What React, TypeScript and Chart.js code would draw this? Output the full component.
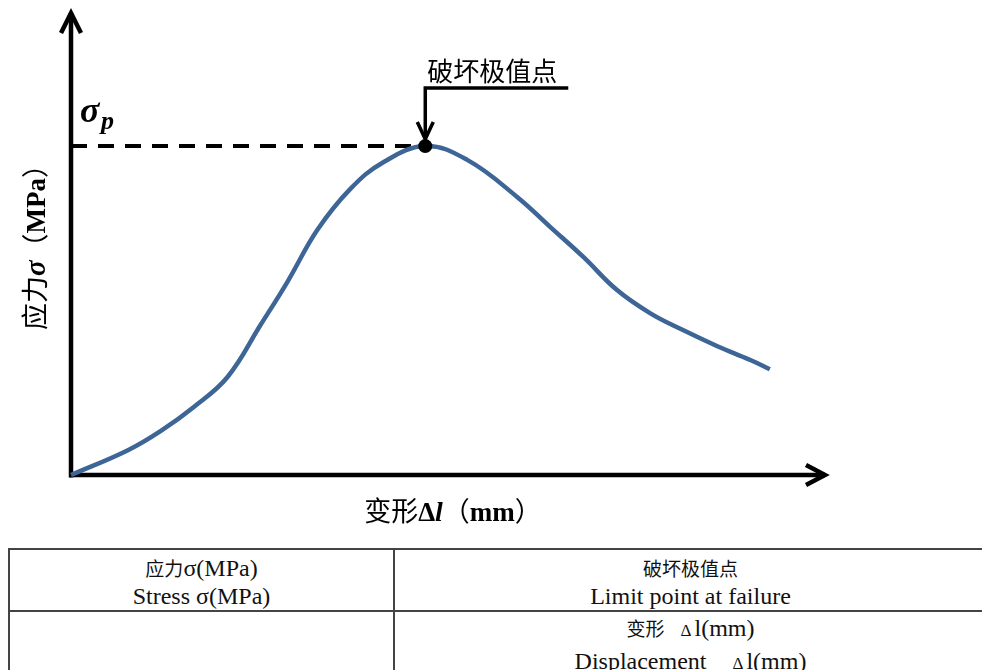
import React, { useEffect, useRef } from "react";
import { Chart, registerables } from "chart.js";

Chart.register(...registerables);

// Deformation Δl (relative units) and stress σ (relative units)
const deformation = [0, 7.6, 12.0, 16.4, 20.9, 25.3, 28.9, 32.9, 37.3, 41.7, 47.3, 52.9, 59.6, 64.0, 68.4, 72.9, 77.3, 81.7, 86.3, 90.7, 93.3];
const stress = [0, 5.4, 9.6, 14.8, 21.3, 32.6, 42.0, 53.3, 62.2, 68.0, 71.5, 68.5, 60.4, 53.9, 47.4, 40.2, 35.2, 31.5, 28.0, 25.0, 23.0];
const peakDeformation = 47.3;
const peakStress = 71.5;

const peakLabel = "破坏极值点";
const yTitleRuns = [
  { t: "应力", f: '27px "Noto Sans CJK SC"' },
  { t: "σ", f: 'italic bold 29px "Liberation Serif"' },
  { t: "（", f: '27px "Noto Sans CJK SC"' },
  { t: "MPa", f: 'bold 27px "Liberation Serif"' },
  { t: "）", f: '27px "Noto Sans CJK SC"' },
];
const xTitleRuns = [
  { t: "变形", f: '27px "Noto Sans CJK SC"' },
  { t: "Δ", f: 'bold 27px "Liberation Serif"' },
  { t: "l", f: 'italic bold 28px "Liberation Serif"' },
  { t: "（", f: '27px "Noto Sans CJK SC"' },
  { t: "mm", f: 'bold 27px "Liberation Serif"' },
  { t: "）", f: '27px "Noto Sans CJK SC"' },
];

const stressCn = "应力";
const stressLatin = "σ(MPa)";
const stressEn = "Stress σ(MPa)";
const failureCn = "破坏极值点";
const failureEn = "Limit point at failure";
const dispCn = "变形";
const dispEn = "Displacement";
const dispUnit = "l(mm)";

function drawRuns(ctx: CanvasRenderingContext2D, runs: { t: string; f: string }[], cx: number, cy: number) {
  let total = 0;
  const widths = runs.map((r) => {
    ctx.font = r.f;
    const w = ctx.measureText(r.t).width;
    total += w;
    return w;
  });
  let x = cx - total / 2;
  ctx.textAlign = "left";
  ctx.textBaseline = "alphabetic";
  runs.forEach((r, i) => {
    ctx.font = r.f;
    ctx.fillText(r.t, x, cy);
    x += widths[i];
  });
}

const decorPlugin = {
  id: "decor",
  beforeDatasetsDraw(chart: any) {
    const ctx: CanvasRenderingContext2D = chart.ctx;
    const xs = chart.scales.x;
    const ys = chart.scales.y;
    const ox = xs.getPixelForValue(0);
    const oy = ys.getPixelForValue(0);
    const { top, right } = chart.chartArea;
    ctx.save();
    ctx.strokeStyle = "#000";
    ctx.lineWidth = 4.5;
    ctx.lineCap = "butt";
    ctx.lineJoin = "miter";
    ctx.beginPath();
    ctx.moveTo(ox, oy + 2.5);
    ctx.lineTo(ox, top - 2);
    ctx.stroke();
    ctx.beginPath();
    ctx.moveTo(ox - 10, top + 18);
    ctx.lineTo(ox, top - 2);
    ctx.lineTo(ox + 10, top + 18);
    ctx.stroke();
    ctx.beginPath();
    ctx.moveTo(ox - 2, oy);
    ctx.lineTo(right + 5, oy);
    ctx.stroke();
    ctx.beginPath();
    ctx.moveTo(right - 14, oy - 10);
    ctx.lineTo(right + 5, oy);
    ctx.lineTo(right - 14, oy + 10);
    ctx.stroke();
    ctx.restore();
  },
  afterDatasetsDraw(chart: any) {
    const ctx: CanvasRenderingContext2D = chart.ctx;
    const xs = chart.scales.x;
    const ys = chart.scales.y;
    const ox = xs.getPixelForValue(0);
    const oy = ys.getPixelForValue(0);
    const px = xs.getPixelForValue(peakDeformation);
    const py = ys.getPixelForValue(peakStress);
    ctx.save();
    ctx.fillStyle = "#000";
    ctx.strokeStyle = "#000";
    ctx.lineWidth = 3.5;
    ctx.beginPath();
    ctx.moveTo(px + 143, py - 58);
    ctx.lineTo(px, py - 58);
    ctx.lineTo(px, py - 8);
    ctx.stroke();
    ctx.beginPath();
    ctx.moveTo(px - 8, py - 24);
    ctx.lineTo(px, py - 7);
    ctx.lineTo(px + 8, py - 24);
    ctx.stroke();
    ctx.font = '26px "Noto Sans CJK SC"';
    ctx.textAlign = "left";
    ctx.textBaseline = "alphabetic";
    ctx.fillText(peakLabel, px + 2, py - 65);
    ctx.font = 'italic bold 36px "Liberation Serif"';
    ctx.fillText("σ", ox + 9, py - 24);
    ctx.font = 'italic bold 26px "Liberation Serif"';
    ctx.fillText("p", ox + 30, py - 17);
    ctx.save();
    ctx.translate(ox - 26, (py + oy) / 2 - 70);
    ctx.rotate(-Math.PI / 2);
    drawRuns(ctx, yTitleRuns, 0, 0);
    ctx.restore();
    drawRuns(ctx, xTitleRuns, 453, oy + 46);
    ctx.restore();
  },
};

const cjkStyle: React.CSSProperties = {
  fontFamily: '"Noto Sans CJK SC"',
  fontSize: 19,
};

export default function App() {
  const ref = useRef<HTMLCanvasElement | null>(null);
  useEffect(() => {
    if (!ref.current) return;
    const curve = deformation.map((x, i) => ({ x, y: stress[i] }));
    const chart = new Chart(ref.current, {
      type: "line",
      data: {
        datasets: [
          {
            label: "peak",
            data: [{ x: peakDeformation, y: peakStress }],
            showLine: false,
            pointRadius: 7,
            pointBackgroundColor: "#000",
            pointBorderColor: "#000",
            pointBorderWidth: 0,
            clip: false,
          } as any,
          {
            label: "curve",
            data: curve,
            borderColor: "#3D6596",
            borderWidth: 4.5,
            pointRadius: 0,
            tension: 0.4,
            fill: false,
            clip: false,
          } as any,
          {
            label: "sigma_p",
            data: [
              { x: 0, y: peakStress },
              { x: peakDeformation, y: peakStress },
            ],
            borderColor: "#000",
            borderWidth: 4,
            borderDash: [16, 11],
            pointRadius: 0,
            fill: false,
            clip: false,
          } as any,
        ],
      },
      options: {
        animation: false,
        responsive: false,
        events: [],
        layout: { padding: { left: 71, right: 162, top: 15, bottom: 55 } },
        plugins: { legend: { display: false }, tooltip: { enabled: false }, title: { display: false } },
        scales: {
          x: { type: "linear", min: 0, max: 100, display: false },
          y: { type: "linear", min: 0, max: 100, display: false },
        },
      },
      plugins: [decorPlugin],
    });
    return () => chart.destroy();
  }, []);

  const cell: React.CSSProperties = {
    border: "2px solid #444",
    textAlign: "center",
    verticalAlign: "middle",
    padding: 0,
  };

  return (
    <div style={{ position: "absolute", left: 0, top: 0, width: 982, height: 670, overflow: "hidden", background: "#fff" }}>
      <canvas ref={ref} width={982} height={530} style={{ display: "block", width: 982, height: 530 }} />
      <table
        style={{
          position: "absolute",
          left: 8,
          top: 548,
          width: 980,
          borderCollapse: "collapse",
          tableLayout: "fixed",
          fontFamily: '"Liberation Serif", "Noto Sans CJK SC", serif',
          fontSize: 24,
          color: "#111",
        }}
      >
        <colgroup>
          <col style={{ width: 385 }} />
          <col />
        </colgroup>
        <tbody>
          <tr style={{ height: 62 }}>
            <td style={{ ...cell, lineHeight: "28px", paddingTop: 3 }}>
              <span style={cjkStyle}>{stressCn}</span>
              {stressLatin}
              <br />
              {stressEn}
            </td>
            <td style={{ ...cell, lineHeight: "28px", paddingTop: 3 }}>
              <span style={cjkStyle}>{failureCn}</span>
              <br />
              {failureEn}
            </td>
          </tr>
          <tr style={{ height: 72 }}>
            <td style={{ ...cell }} />
            <td style={{ ...cell, lineHeight: "31px", verticalAlign: "top", paddingTop: 0 }}>
              <span style={{ ...cjkStyle, marginRight: 16 }}>{dispCn}</span>
              <span style={{ fontSize: 17, marginRight: 3 }}>Δ</span>
              {dispUnit}
              <br />
              {dispEn}
              <span style={{ fontSize: 17, marginLeft: 26, marginRight: 3 }}>Δ</span>
              {dispUnit}
            </td>
          </tr>
        </tbody>
      </table>
    </div>
  );
}
